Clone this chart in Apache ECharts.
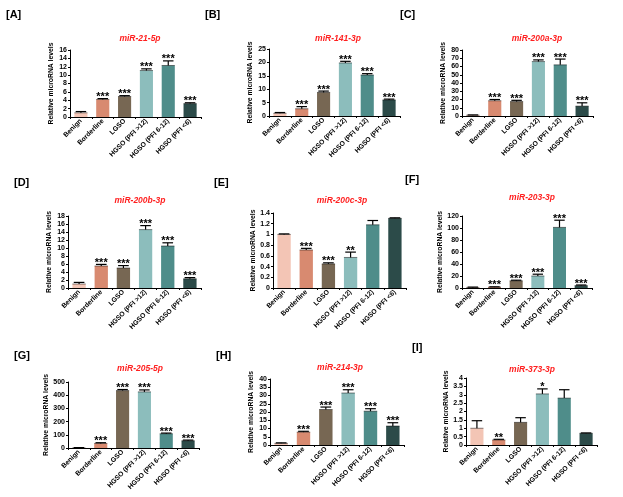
<!DOCTYPE html>
<html><head><meta charset="utf-8">
<script src="https://cdn.jsdelivr.net/npm/echarts@6/dist/echarts.min.js"></script>
<style>html,body{margin:0;padding:0;background:#fff}#c{width:623px;height:497px}</style>
</head><body><div id="c"></div>
<script>
const categories = ['Benign','Borderline','LGSO','HGSO (PFI >12)','HGSO (PFI 6-12)','HGSO (PFI <6)'];
const panelLabels = ['[A]','[B]','[C]','[D]','[E]','[F]','[G]','[H]','[I]'];
const titles = ['miR-21-5p','miR-141-3p','miR-200a-3p','miR-200b-3p','miR-200c-3p','miR-203-3p','miR-205-5p','miR-214-3p','miR-373-3p'];

const valuesA = [1.0, 4.2, 4.9, 11.1, 12.3, 3.2];
const errorsA = [0.3, 0.2, 0.2, 0.4, 1.1, 0.2];
const sigA = ['', '***', '***', '***', '***', '***'];

const valuesB = [1.0, 2.7, 8.8, 19.8, 15.3, 6.0];
const errorsB = [0.3, 0.8, 0.5, 0.6, 0.5, 0.3];
const sigB = ['', '***', '***', '***', '***', '***'];

const valuesC = [1.0, 18.5, 17.5, 66, 62, 12];
const errorsC = [0.3, 1.5, 1.5, 2, 7, 4];
const sigC = ['', '***', '***', '***', '***', '***'];

const valuesD = [1.0, 5.5, 5.0, 14.6, 10.5, 2.3];
const errorsD = [0.4, 0.4, 0.6, 1.0, 0.8, 0.3];
const sigD = ['', '***', '***', '***', '***', '***'];

const valuesE = [1.0, 0.71, 0.45, 0.57, 1.18, 1.3];
const errorsE = [0.01, 0.03, 0.02, 0.1, 0.08, 0.01];
const sigE = ['', '***', '***', '**', '', ''];

const valuesF = [1.0, 1.5, 12, 20, 101, 4];
const errorsF = [0.5, 0.5, 1, 3, 12, 1];
const sigF = ['', '***', '***', '***', '***', '***'];

const valuesG = [1, 35, 435, 425, 108, 55];
const errorsG = [2, 5, 8, 15, 5, 5];
const sigG = ['', '***', '***', '***', '***', '***'];

const valuesH = [1.0, 7.8, 21.5, 31.5, 20.5, 11.5];
const errorsH = [0.3, 0.5, 1.5, 2, 1.5, 2];
const sigH = ['', '***', '***', '***', '***', '***'];

const valuesI = [1.0, 0.3, 1.35, 3.05, 2.8, 0.7];
const errorsI = [0.45, 0.04, 0.28, 0.3, 0.5, 0.02];
const sigI = ['', '**', '', '*', '', ''];

const axisMax = [16, 25, 80, 18, 1.4, 120, 500, 40, 4];
const axisInterval = [2, 5, 10, 2, 0.2, 20, 100, 5, 0.5];

const allValues = [valuesA, valuesB, valuesC, valuesD, valuesE, valuesF, valuesG, valuesH, valuesI];
const allErrors = [errorsA, errorsB, errorsC, errorsD, errorsE, errorsF, errorsG, errorsH, errorsI];
const allSig = [sigA, sigB, sigC, sigD, sigE, sigF, sigG, sigH, sigI];

// layout (style only)
const grids = [
  {left: 70, top: 50, width: 131, height: 67},
  {left: 269, top: 49, width: 131, height: 67},
  {left: 462, top: 50, width: 131, height: 66},
  {left: 68, top: 216, width: 133, height: 72},
  {left: 273, top: 213, width: 133, height: 75},
  {left: 462, top: 216, width: 130, height: 72},
  {left: 68, top: 382, width: 131, height: 66},
  {left: 270, top: 379, width: 134, height: 66},
  {left: 466, top: 378, width: 131, height: 67}
];
const labelPos = [[6,9],[205,9],[400,9],[14,177],[214,177],[405,174],[14,350],[216,350],[412,342]];
const titlePos = [[135,29],[333,29],[532,29],[135,191],[337,191],[527,188],[135,359],[335,358],[527,360]];
const colors = ['#F3C5B5','#D88A70','#776753','#8CBDBC','#4F8D8A','#2C4B49'];
const FONT = 'Liberation Sans, Arial, sans-serif';

const option = {animation: false, grid: [], xAxis: [], yAxis: [], series: [], title: [], graphic: []};

function makeRender(sig) {
  return function (params, api) {
    const x = api.value(0), v = api.value(1), e = api.value(2);
    const s = sig[params.dataIndex];
    const top = api.coord([x, v]);
    const hi = api.coord([x, v + e]);
    const bw = api.size([1, 0])[0] * 0.6;
    const cw = bw * 0.8;
    const children = [
      {type: 'line', shape: {x1: top[0], y1: top[1], x2: top[0], y2: hi[1]}, style: {stroke: '#000', lineWidth: 1.2}},
      {type: 'line', shape: {x1: top[0] - cw / 2, y1: hi[1], x2: top[0] + cw / 2, y2: hi[1]}, style: {stroke: '#000', lineWidth: 1.2}},
      {type: 'line', shape: {x1: top[0] - bw / 2, y1: top[1], x2: top[0] + bw / 2, y2: top[1]}, style: {stroke: '#000', lineWidth: 0.8, opacity: 0.6}}
    ];
    if (s) {
      children.push({type: 'text', style: {text: s, x: top[0], y: hi[1] - 7, textAlign: 'center', textVerticalAlign: 'top', fill: '#000', font: 'bold 11px ' + FONT}});
    }
    return {type: 'group', children: children};
  };
}

for (let i = 0; i < 9; i++) {
  option.grid.push(grids[i]);
  option.title.push({
    text: titles[i], left: titlePos[i][0], top: titlePos[i][1], textAlign: 'center',
    textStyle: {color: '#FF2020', fontSize: 8.5, fontWeight: 'bold', fontStyle: 'italic', fontFamily: FONT}
  });
  option.graphic.push({
    type: 'text', left: labelPos[i][0], top: labelPos[i][1],
    style: {text: panelLabels[i], fill: '#000', font: 'bold 11px ' + FONT}
  });
  option.xAxis.push({
    type: 'category', gridIndex: i, data: categories,
    axisLine: {lineStyle: {color: '#000', width: 1}},
    axisTick: {show: true, length: 2, lineStyle: {color: '#000'}},
    axisLabel: {rotate: 45, fontSize: 6.8, fontWeight: 'bold', color: '#000', margin: 3, fontFamily: FONT, interval: 0}
  });
  option.yAxis.push({
    type: 'value', gridIndex: i, min: 0, max: axisMax[i], interval: axisInterval[i],
    name: 'Relative microRNA levels', nameLocation: 'middle', nameGap: 15,
    nameTextStyle: {fontSize: 6.8, fontWeight: 'bold', color: '#000', fontFamily: FONT},
    axisLine: {show: true, lineStyle: {color: '#000', width: 1}},
    axisTick: {show: true, length: 2, lineStyle: {color: '#000'}},
    splitLine: {show: false},
    axisLabel: {fontSize: 7, fontWeight: 'bold', color: '#000', margin: 3, fontFamily: FONT}
  });
  option.series.push({
    type: 'bar', xAxisIndex: i, yAxisIndex: i, barCategoryGap: '40%',
    data: allValues[i].map((v, j) => ({value: v, itemStyle: {color: colors[j]}}))
  });
  option.series.push({
    type: 'custom', xAxisIndex: i, yAxisIndex: i, z: 10,
    data: allValues[i].map((v, j) => [j, v, allErrors[i][j]]),
    renderItem: makeRender(allSig[i])
  });
}

const chart = echarts.init(document.getElementById('c'), null, {renderer: 'canvas'});
chart.setOption(option);
</script>
</body></html>
